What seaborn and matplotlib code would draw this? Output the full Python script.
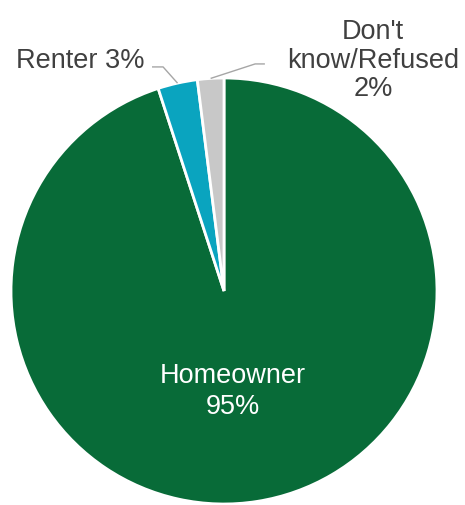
import numpy as np
import matplotlib
matplotlib.use("Agg")
import matplotlib.pyplot as plt
import seaborn as sns

# Housing tenure shares
categories = ["Homeowner", "Renter", "Don't know/Refused"]
shares = [95, 3, 2]
colors = ["#086B38", "#0AA4BF", "#C8C8C8"]

sns.set_theme(style="white")
plt.rcParams["font.family"] = ["Liberation Sans", "DejaVu Sans"]

W, H = 465, 506
fig = plt.figure(figsize=(W / 100, H / 100), dpi=100)
fig.patch.set_facecolor("white")

# square axes holding the unit circle of the pie
cx, cy, r = 224, 292, 213
ax = fig.add_axes([(cx - r) / W, (H - cy - r) / H, 2 * r / W, 2 * r / H])

wedges, _ = ax.pie(
    shares,
    colors=colors,
    startangle=90,
    counterclock=False,
    radius=1.0,
    wedgeprops=dict(edgecolor="white", linewidth=2.0),
)
ax.set_xlim(-1, 1)
ax.set_ylim(-1, 1)
ax.set_aspect("auto")
ax.axis("off")

fs = 19.5
txt_col = "#404040"
line_col = "#A6A6A6"

def mid_point(w):
    ang = np.deg2rad((w.theta1 + w.theta2) / 2)
    return np.cos(ang), np.sin(ang)

# inner label for the main slice
ax.text(0.04, -0.468, f"{categories[0]}\n{shares[0]}%", color="white",
        fontsize=fs, ha="center", va="center", linespacing=1.28)

# Renter label with leader line
x0, y0 = mid_point(wedges[1])
ax.plot([x0, -0.286, -0.338], [y0, 1.052, 1.052], color=line_col, lw=1.0,
        clip_on=False, solid_capstyle="butt")
ax.text(-0.371, 1.052, f"{categories[1]} {shares[1]}%", color=txt_col,
        fontsize=fs, ha="right", va="baseline", clip_on=False)

# Don't know / Refused label with leader line
x0, y0 = mid_point(wedges[2])
ax.plot([x0, 0.146, 0.192], [y0, 1.066, 1.066], color=line_col, lw=1.0,
        clip_on=False, solid_capstyle="butt")
ax.text(0.70, 1.085, "Don't\nknow/Refused\n" + f"{shares[2]}%", color=txt_col,
        fontsize=fs, ha="center", va="center", linespacing=1.12, clip_on=False)

fig.savefig("out.png", dpi=100, facecolor="white")
